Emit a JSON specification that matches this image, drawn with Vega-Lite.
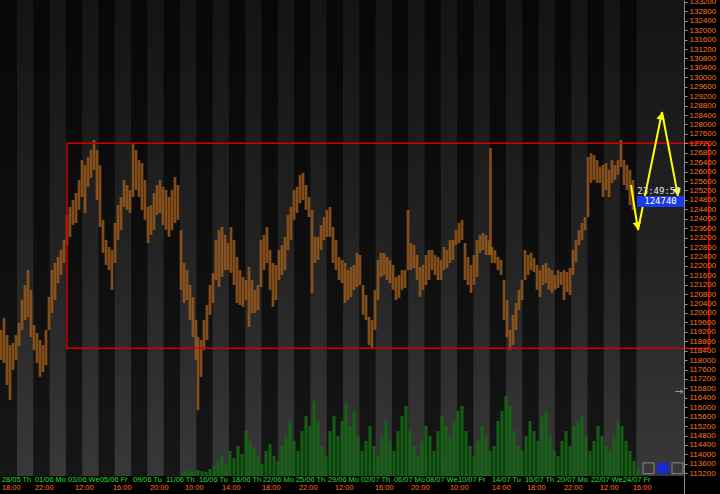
{
"$schema": "https://vega.github.io/schema/vega-lite/v6.json",
"width": 720, "height": 494, "autosize": "none", "padding": 0, "background": "#000000",
"config": {"view": {"stroke": null}},
"datasets": {
"candles": [
{"x":1,"price":119280,"low":118010},{"x":4,"price":119790,"low":117880},{"x":7,"price":119070,"low":116950},{"x":10,"price":118640,"low":116310},{"x":13,"price":118730,"low":117580},{"x":16,"price":119070,"low":118010},{"x":19,"price":119580,"low":118600},{"x":22,"price":120550,"low":119280},{"x":25,"price":121190,"low":119700},{"x":28,"price":121820,"low":119830},{"x":31,"price":120980,"low":118980},{"x":34,"price":119490,"low":118430},{"x":37,"price":119150,"low":117880},{"x":40,"price":118850,"low":117290},{"x":43,"price":118640,"low":117500},{"x":46,"price":119280,"low":117790},{"x":49,"price":120680,"low":119280},{"x":52,"price":121820,"low":120000},{"x":55,"price":122120,"low":120550},{"x":58,"price":122380,"low":121270},{"x":61,"price":122670,"low":121610},{"x":64,"price":123100,"low":122120},{"x":67,"price":124160,"low":122880},{"x":70,"price":124500,"low":123230},{"x":73,"price":124790,"low":123740},{"x":76,"price":125090,"low":123820},{"x":79,"price":125640,"low":124370},{"x":82,"price":126490,"low":124920},{"x":85,"price":126270,"low":124240},{"x":88,"price":126620,"low":125350},{"x":91,"price":126920,"low":125730},{"x":94,"price":127340,"low":126070},{"x":97,"price":126920,"low":124790},{"x":100,"price":126270,"low":123650},{"x":103,"price":123950,"low":122550},{"x":106,"price":123100,"low":122040},{"x":109,"price":122800,"low":121820},{"x":112,"price":122670,"low":120980},{"x":115,"price":123820,"low":122120},{"x":118,"price":124580,"low":123100},{"x":121,"price":124920,"low":123520},{"x":124,"price":125640,"low":124500},{"x":127,"price":125430,"low":124370},{"x":130,"price":125220,"low":124240},{"x":133,"price":127210,"low":124920},{"x":136,"price":126920,"low":125220},{"x":139,"price":126490,"low":124920},{"x":142,"price":126360,"low":124370},{"x":145,"price":125640,"low":123950},{"x":148,"price":124500,"low":122970},{"x":151,"price":124580,"low":123310},{"x":154,"price":125090,"low":123520},{"x":157,"price":125430,"low":124160},{"x":160,"price":125640,"low":124240},{"x":163,"price":125350,"low":123730},{"x":166,"price":125220,"low":123520},{"x":169,"price":124920,"low":123230},{"x":172,"price":125220,"low":123520},{"x":175,"price":125770,"low":123820},{"x":178,"price":125430,"low":123950},{"x":181,"price":123520,"low":120980},{"x":184,"price":122120,"low":120420},{"x":187,"price":121820,"low":120550},{"x":190,"price":121190,"low":119700},{"x":193,"price":120680,"low":118980},{"x":196,"price":119700,"low":118010},{"x":198,"price":118980,"low":115880},{"x":201,"price":118850,"low":117290},{"x":204,"price":119700,"low":118430},{"x":207,"price":120340,"low":118850},{"x":210,"price":121190,"low":119920},{"x":213,"price":121690,"low":120420},{"x":216,"price":123100,"low":121400},{"x":219,"price":123520,"low":121100},{"x":222,"price":123650,"low":121530},{"x":225,"price":123310,"low":121820},{"x":228,"price":122970,"low":121820},{"x":231,"price":123650,"low":121700},{"x":234,"price":123100,"low":121190},{"x":237,"price":122380,"low":120420},{"x":240,"price":121820,"low":120340},{"x":243,"price":121530,"low":120260},{"x":246,"price":121400,"low":120550},{"x":249,"price":121950,"low":119410},{"x":252,"price":121400,"low":120000},{"x":255,"price":120980,"low":120000},{"x":258,"price":121190,"low":120130},{"x":261,"price":123100,"low":121100},{"x":264,"price":123310,"low":121820},{"x":267,"price":123650,"low":122120},{"x":270,"price":122670,"low":120980},{"x":273,"price":122120,"low":120260},{"x":276,"price":122040,"low":120550},{"x":279,"price":122670,"low":121400},{"x":282,"price":122880,"low":121610},{"x":285,"price":123230,"low":121820},{"x":288,"price":124160,"low":122670},{"x":291,"price":124500,"low":123100},{"x":294,"price":125220,"low":123950},{"x":297,"price":125350,"low":124240},{"x":300,"price":125860,"low":124660},{"x":303,"price":125940,"low":124790},{"x":306,"price":125430,"low":124370},{"x":309,"price":124920,"low":124070},{"x":312,"price":124370,"low":120850},{"x":315,"price":123230,"low":122120},{"x":318,"price":123230,"low":122250},{"x":321,"price":123730,"low":122670},{"x":324,"price":124070,"low":123100},{"x":327,"price":124370,"low":123230},{"x":330,"price":124500,"low":123230},{"x":333,"price":123650,"low":122120},{"x":336,"price":123100,"low":121820},{"x":339,"price":122380,"low":121400},{"x":342,"price":122250,"low":121270},{"x":345,"price":122120,"low":120420},{"x":348,"price":121820,"low":120550},{"x":351,"price":121950,"low":120680},{"x":354,"price":122040,"low":120980},{"x":357,"price":122550,"low":121100},{"x":360,"price":122460,"low":121190},{"x":363,"price":121190,"low":119920},{"x":366,"price":120760,"low":119700},{"x":369,"price":119840,"low":118640},{"x":372,"price":119700,"low":118520},{"x":375,"price":120980,"low":119280},{"x":378,"price":122250,"low":120550},{"x":381,"price":122550,"low":121530},{"x":384,"price":122550,"low":121610},{"x":387,"price":122380,"low":121400},{"x":390,"price":122250,"low":121270},{"x":393,"price":122040,"low":120980},{"x":396,"price":121530,"low":120550},{"x":399,"price":121610,"low":120640},{"x":402,"price":121820,"low":120980},{"x":405,"price":121820,"low":121060},{"x":408,"price":124370,"low":121820},{"x":411,"price":122970,"low":121820},{"x":414,"price":122880,"low":121910},{"x":417,"price":122460,"low":121400},{"x":420,"price":121950,"low":120680},{"x":423,"price":122040,"low":120980},{"x":426,"price":122460,"low":121190},{"x":429,"price":122670,"low":121400},{"x":432,"price":122670,"low":121820},{"x":435,"price":122460,"low":121610},{"x":438,"price":122380,"low":121400},{"x":441,"price":122250,"low":121400},{"x":444,"price":122800,"low":121820},{"x":447,"price":122670,"low":121910},{"x":450,"price":123100,"low":122120},{"x":453,"price":123100,"low":122250},{"x":456,"price":123520,"low":122880},{"x":459,"price":123820,"low":122970},{"x":462,"price":123950,"low":123100},{"x":465,"price":122970,"low":121400},{"x":468,"price":122380,"low":121190},{"x":471,"price":122040,"low":120850},{"x":474,"price":122460,"low":121190},{"x":477,"price":123100,"low":121530},{"x":480,"price":123310,"low":122550},{"x":483,"price":123390,"low":122670},{"x":486,"price":123310,"low":122460},{"x":489,"price":123100,"low":122460},{"x":490.5,"price":127000,"low":122460},{"x":492,"price":122800,"low":122120},{"x":495,"price":122670,"low":122120},{"x":498,"price":122380,"low":121820},{"x":501,"price":122250,"low":121610},{"x":504,"price":121400,"low":119700},{"x":507,"price":120550,"low":118980},{"x":510,"price":119280,"low":118430},{"x":513,"price":119920,"low":118640},{"x":516,"price":120420,"low":119280},{"x":519,"price":120980,"low":120130},{"x":522,"price":121400,"low":120550},{"x":525,"price":122670,"low":121400},{"x":528,"price":122460,"low":121610},{"x":531,"price":122550,"low":121820},{"x":534,"price":122330,"low":121740},{"x":537,"price":122040,"low":120980},{"x":540,"price":121820,"low":120680},{"x":543,"price":122040,"low":121190},{"x":546,"price":122120,"low":121270},{"x":549,"price":121910,"low":120980},{"x":552,"price":121820,"low":120850},{"x":555,"price":121610,"low":120980},{"x":558,"price":121820,"low":121060},{"x":561,"price":121740,"low":121190},{"x":564,"price":121820,"low":120550},{"x":567,"price":121740,"low":120890},{"x":570,"price":121910,"low":120760},{"x":573,"price":122670,"low":121610},{"x":576,"price":123100,"low":122160},{"x":579,"price":123520,"low":122880},{"x":582,"price":123820,"low":123100},{"x":585,"price":124070,"low":123520},{"x":588,"price":126620,"low":124070},{"x":591,"price":126780,"low":125520},{"x":594,"price":126700,"low":125640},{"x":597,"price":126490,"low":125520},{"x":600,"price":126200,"low":125520},{"x":603,"price":126280,"low":124920},{"x":606,"price":126360,"low":125220},{"x":609,"price":126070,"low":124920},{"x":612,"price":126490,"low":125520},{"x":615,"price":126280,"low":125640},{"x":618,"price":126490,"low":125860},{"x":621,"price":127340,"low":126190},{"x":624,"price":126490,"low":125430},{"x":627,"price":126280,"low":125220},{"x":630,"price":126070,"low":124580},{"x":633,"price":125640,"low":124370}
],
"volume": [
{"x":182,"vol":30},{"x":186,"vol":40},{"x":190,"vol":50},{"x":194,"vol":40},{"x":198,"vol":60},{"x":202,"vol":50},{"x":206,"vol":40},{"x":210,"vol":70},{"x":214,"vol":100},{"x":218,"vol":150},{"x":222,"vol":200},{"x":226,"vol":120},{"x":230,"vol":250},{"x":234,"vol":180},{"x":238,"vol":300},{"x":242,"vol":220},{"x":246,"vol":450},{"x":250,"vol":350},{"x":254,"vol":280},{"x":258,"vol":200},{"x":262,"vol":120},{"x":266,"vol":250},{"x":270,"vol":320},{"x":274,"vol":200},{"x":278,"vol":150},{"x":282,"vol":300},{"x":286,"vol":400},{"x":290,"vol":550},{"x":294,"vol":350},{"x":298,"vol":250},{"x":302,"vol":450},{"x":306,"vol":600},{"x":310,"vol":500},{"x":314,"vol":750},{"x":318,"vol":550},{"x":322,"vol":300},{"x":326,"vol":200},{"x":330,"vol":450},{"x":334,"vol":600},{"x":338,"vol":400},{"x":342,"vol":550},{"x":346,"vol":720},{"x":350,"vol":500},{"x":354,"vol":650},{"x":358,"vol":400},{"x":362,"vol":250},{"x":366,"vol":350},{"x":370,"vol":500},{"x":374,"vol":300},{"x":378,"vol":200},{"x":382,"vol":400},{"x":386,"vol":550},{"x":390,"vol":350},{"x":394,"vol":250},{"x":398,"vol":450},{"x":402,"vol":600},{"x":406,"vol":700},{"x":410,"vol":450},{"x":414,"vol":300},{"x":418,"vol":200},{"x":422,"vol":350},{"x":426,"vol":500},{"x":430,"vol":400},{"x":434,"vol":250},{"x":438,"vol":450},{"x":442,"vol":600},{"x":446,"vol":500},{"x":450,"vol":400},{"x":454,"vol":550},{"x":458,"vol":650},{"x":462,"vol":700},{"x":466,"vol":450},{"x":470,"vol":300},{"x":474,"vol":200},{"x":478,"vol":350},{"x":482,"vol":500},{"x":486,"vol":400},{"x":490,"vol":250},{"x":494,"vol":300},{"x":498,"vol":550},{"x":502,"vol":650},{"x":506,"vol":800},{"x":510,"vol":700},{"x":514,"vol":450},{"x":518,"vol":300},{"x":522,"vol":250},{"x":526,"vol":400},{"x":530,"vol":550},{"x":534,"vol":450},{"x":538,"vol":350},{"x":542,"vol":600},{"x":546,"vol":650},{"x":550,"vol":400},{"x":554,"vol":250},{"x":558,"vol":200},{"x":562,"vol":350},{"x":566,"vol":450},{"x":570,"vol":300},{"x":574,"vol":500},{"x":578,"vol":550},{"x":582,"vol":600},{"x":586,"vol":400},{"x":590,"vol":250},{"x":594,"vol":350},{"x":598,"vol":500},{"x":602,"vol":400},{"x":606,"vol":300},{"x":610,"vol":250},{"x":614,"vol":400},{"x":618,"vol":550},{"x":622,"vol":500},{"x":626,"vol":350},{"x":630,"vol":250},{"x":634,"vol":150},{"x":638,"vol":80}
],
"bands": [
{"x":0,"x2":17,"price":133280,"price2":113083},{"x":33.3,"x2":49.6,"price":133280,"price2":113083},{"x":65.9,"x2":82.2,"price":133280,"price2":113083},{"x":98.5,"x2":114.8,"price":133280,"price2":113083},{"x":131.1,"x2":147.4,"price":133280,"price2":113083},{"x":163.7,"x2":180,"price":133280,"price2":113083},{"x":196.3,"x2":212.6,"price":133280,"price2":113083},{"x":228.9,"x2":245.2,"price":133280,"price2":113083},{"x":261.5,"x2":277.8,"price":133280,"price2":113083},{"x":294.1,"x2":310.4,"price":133280,"price2":113083},{"x":326.7,"x2":343,"price":133280,"price2":113083},{"x":359.3,"x2":375.6,"price":133280,"price2":113083},{"x":391.9,"x2":408.2,"price":133280,"price2":113083},{"x":424.5,"x2":440.8,"price":133280,"price2":113083},{"x":457.1,"x2":473.4,"price":133280,"price2":113083},{"x":489.7,"x2":506,"price":133280,"price2":113083},{"x":522.3,"x2":538.6,"price":133280,"price2":113083},{"x":554.9,"x2":571.2,"price":133280,"price2":113083},{"x":587.5,"x2":603.8,"price":133280,"price2":113083},{"x":620.1,"x2":636.4,"price":133280,"price2":113083}
],
"dates": [
{"x":2,"price":112893,"label":"28/05 Th"},{"x":35,"price":112893,"label":"01/06 Mo"},{"x":68,"price":112893,"label":"03/06 We"},{"x":100,"price":112893,"label":"05/06 Fr"},{"x":133,"price":112893,"label":"09/06 Tu"},{"x":166,"price":112893,"label":"11/06 Th"},{"x":199,"price":112893,"label":"16/06 Tu"},{"x":232,"price":112893,"label":"18/06 Th"},{"x":263,"price":112893,"label":"22/06 Mo"},{"x":296,"price":112893,"label":"25/06 Th"},{"x":328,"price":112893,"label":"29/06 Mo"},{"x":361,"price":112893,"label":"02/07 Th"},{"x":394,"price":112893,"label":"06/07 Mo"},{"x":426,"price":112893,"label":"08/07 We"},{"x":458,"price":112893,"label":"10/07 Fr"},{"x":492,"price":112893,"label":"14/07 Tu"},{"x":525,"price":112893,"label":"16/07 Th"},{"x":557,"price":112893,"label":"20/07 Mo"},{"x":591,"price":112893,"label":"22/07 We"},{"x":623,"price":112893,"label":"24/07 Fr"}
],
"times": [
{"x":2,"price":112560,"label":"18:00"},{"x":35,"price":112560,"label":"22:00"},{"x":75,"price":112560,"label":"12:00"},{"x":113,"price":112560,"label":"16:00"},{"x":150,"price":112560,"label":"20:00"},{"x":185,"price":112560,"label":"10:00"},{"x":222,"price":112560,"label":"14:00"},{"x":262,"price":112560,"label":"18:00"},{"x":299,"price":112560,"label":"22:00"},{"x":335,"price":112560,"label":"12:00"},{"x":375,"price":112560,"label":"16:00"},{"x":411,"price":112560,"label":"20:00"},{"x":450,"price":112560,"label":"10:00"},{"x":492,"price":112560,"label":"14:00"},{"x":527,"price":112560,"label":"18:00"},{"x":564,"price":112560,"label":"22:00"},{"x":600,"price":112560,"label":"12:00"},{"x":633,"price":112560,"label":"16:00"}
],
"arrows": [
{"seg":"a","x":631,"price":125430},{"seg":"a","x":638,"price":123520},
{"seg":"b","x":638,"price":123520},{"seg":"b","x":662,"price":128530},
{"seg":"c","x":662,"price":128530},{"seg":"c","x":678,"price":124960}
]
},
"layer": [
{
"encoding": {
"x": {"field": "x", "type": "quantitative", "scale": {"domain": [0, 720], "nice": false, "zero": false, "padding": 0}, "axis": null},
"y": {"field": "price", "type": "quantitative", "scale": {"domain": [112320, 133280], "nice": false, "zero": false},
"axis": {"orient": "right", "offset": -36, "title": null, "format": "d", "grid": false, "zindex": 1,
"values": [113200,113600,114000,114400,114800,115200,115600,116000,116400,116800,117200,117600,118000,118400,118800,119200,119600,120000,120400,120800,121200,121600,122000,122400,122800,123200,123600,124000,124400,124800,125200,125600,126000,126400,126800,127200,127600,128000,128400,128800,129200,129600,130000,130400,130800,131200,131600,132000,132400,132800,133200],
"labelColor": "#ff7417", "labelFont": "Liberation Sans", "labelFontSize": 8, "labelPadding": 2, "labelOverlap": false, "labelBound": false, "labelFlush": false,
"tickColor": "#9a9a9a", "tickSize": 3, "domainColor": "#8a8a8a"}}
},
"layer": [
{"data": {"values": [{"x": 0, "x2": 684, "price": 133280, "price2": 113083}]},
"mark": {"type": "rect", "fill": {"gradient": "linear", "x1": 0, "y1": 0, "x2": 0, "y2": 1, "stops": [{"offset": 0, "color": "#141414"}, {"offset": 0.5, "color": "#222222"}, {"offset": 1, "color": "#383838"}]}},
"encoding": {"x2": {"field": "x2"}, "y2": {"field": "price2"}}},
{"data": {"name": "bands"},
"mark": {"type": "rect", "fill": "#000000", "opacity": 0.6},
"encoding": {"x2": {"field": "x2"}, "y2": {"field": "price2"}}},
{"data": {"name": "candles"},
"mark": {"type": "bar", "width": 2.7, "color": "#a05c1d", "opacity": 0.8},
"encoding": {"y2": {"field": "low"}}},
{"data": {"values": [{"x": 67, "x2": 709, "price": 127200, "price2": 118500}]},
"mark": {"type": "rect", "fill": null, "fillOpacity": 0, "stroke": "#d00000", "strokeWidth": 1.5},
"encoding": {"x2": {"field": "x2"}, "y2": {"field": "price2"}}},
{"data": {"name": "arrows"},
"mark": {"type": "line", "color": "#ffff00", "strokeWidth": 2},
"encoding": {"detail": {"field": "seg"}}},
{"data": {"values": [{"x": 637.4, "price": 123690}]},
"mark": {"type": "point", "shape": "triangle-up", "filled": true, "color": "#ffff00", "opacity": 1, "size": 70, "angle": 171}},
{"data": {"values": [{"x": 661.2, "price": 128360}]},
"mark": {"type": "point", "shape": "triangle-up", "filled": true, "color": "#ffff00", "opacity": 1, "size": 70, "angle": 11}},
{"data": {"values": [{"x": 677.2, "price": 125130}]},
"mark": {"type": "point", "shape": "triangle-up", "filled": true, "color": "#ffff00", "opacity": 1, "size": 70, "angle": 169}},
{"data": {"values": [{"x": 637, "x2": 684, "price": 124960, "price2": 124500}]},
"mark": {"type": "rect", "fill": "#1a3ae6"},
"encoding": {"x2": {"field": "x2"}, "y2": {"field": "price2"}}},
{"data": {"values": [{"x": 660.5, "price": 124740, "label": "124740"}]},
"mark": {"type": "text", "font": "DejaVu Sans Mono", "fontSize": 9, "color": "#ffffff", "align": "center", "baseline": "middle"},
"encoding": {"text": {"field": "label"}}},
{"data": {"values": [{"x": 659, "price": 125176, "label": "23:49:59"}]},
"mark": {"type": "text", "font": "DejaVu Sans Mono", "fontSize": 9, "color": "#e8e8e8", "align": "center", "baseline": "middle"},
"encoding": {"text": {"field": "label"}}},
{"data": {"values": [{"x": 679, "price": 116650, "label": "→"}]},
"mark": {"type": "text", "font": "DejaVu Sans", "fontSize": 10, "color": "#aaaaaa", "align": "center", "baseline": "middle"},
"encoding": {"text": {"field": "label"}}},
{"data": {"values": [{"x": 643, "x2": 654, "price": 113640, "price2": 113180}, {"x": 672, "x2": 683, "price": 113640, "price2": 113180}]},
"mark": {"type": "rect", "fill": null, "fillOpacity": 0, "stroke": "#8a8a8a", "strokeWidth": 1},
"encoding": {"x2": {"field": "x2"}, "y2": {"field": "price2"}}},
{"data": {"values": [{"x": 657, "x2": 669, "price": 113640, "price2": 113180}]},
"mark": {"type": "rect", "fill": "#1a2ad0"},
"encoding": {"x2": {"field": "x2"}, "y2": {"field": "price2"}}},
{"data": {"name": "dates"},
"mark": {"type": "text", "font": "Liberation Sans", "fontSize": 7.4, "color": "#22e022", "align": "left", "baseline": "middle"},
"encoding": {"text": {"field": "label"}}},
{"data": {"name": "times"},
"mark": {"type": "text", "font": "Liberation Sans", "fontSize": 7.4, "color": "#ff7417", "align": "left", "baseline": "middle"},
"encoding": {"text": {"field": "label"}}}
]
},
{"data": {"name": "volume"},
"mark": {"type": "bar", "width": 3, "color": "#126812", "opacity": 0.9},
"encoding": {
"x": {"field": "x", "type": "quantitative", "axis": null, "scale": {"padding": 0}},
"y": {"field": "vol", "type": "quantitative", "scale": {"domain": [-180, 4760], "nice": false, "zero": false}, "axis": null},
"y2": {"datum": 0}}}
],
"resolve": {"scale": {"y": "independent"}}
}
